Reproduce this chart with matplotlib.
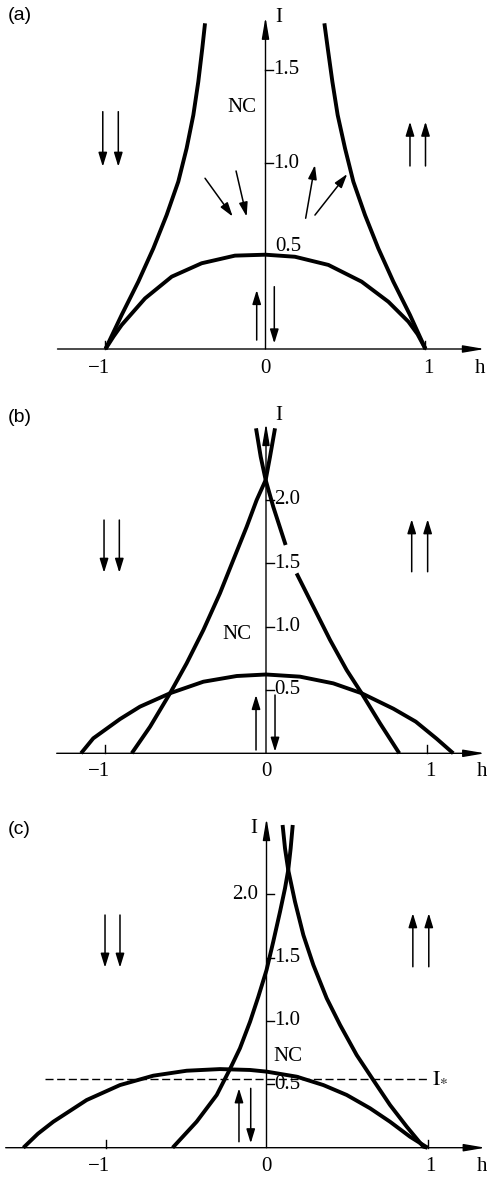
import matplotlib
matplotlib.use("Agg")
import matplotlib.pyplot as plt

plt.rcParams['mathtext.fontset'] = 'stix'
SERIF = ['Liberation Serif', 'DejaVu Serif']
SANS = ['Liberation Sans', 'DejaVu Sans']

W, H = 487, 1177
NAN = float('nan')

# ---------------- data ----------------
# panel (a)
a_left_h = [-1.0, -0.899, -0.795, -0.701, -0.618, -0.545, -0.493, -0.451, -0.42, -0.395, -0.378]
a_left_I = [0.0, 0.183, 0.362, 0.541, 0.72, 0.9, 1.079, 1.258, 1.437, 1.617, 1.751]
a_right_h = [1.0, 0.903, 0.799, 0.705, 0.622, 0.549, 0.497, 0.451, 0.418, 0.389, 0.368]
a_right_I = [0.0, 0.183, 0.362, 0.541, 0.72, 0.9, 1.079, 1.258, 1.437, 1.617, 1.751]
a_arc_h = [-1.0, -0.95, -0.899, -0.753, -0.586, -0.399, -0.191, 0.0, 0.184, 0.393, 0.601, 0.768, 0.893, 0.95, 1.0]
a_arc_I = [0.0, 0.067, 0.129, 0.272, 0.389, 0.461, 0.502, 0.507, 0.496, 0.452, 0.362, 0.254, 0.147, 0.08, 0.0]

# panel (b)  (the right curve is broken where the "1.5" label sits)
b_left_h = [-0.834, -0.72, -0.596, -0.493, -0.389, -0.286, -0.203, -0.12, -0.058, -0.002, 0.025, 0.056]
b_left_I = [0.0, 0.21, 0.474, 0.71, 0.973, 1.263, 1.526, 1.788, 1.999, 2.157, 2.341, 2.565]
b_right_h = [-0.062, -0.033, -0.002, 0.045, 0.122, NAN, 0.19, 0.294, 0.398, 0.501, 0.594, 0.708, 0.828]
b_right_I = [2.565, 2.341, 2.157, 1.946, 1.644, NAN, 1.42, 1.157, 0.894, 0.657, 0.474, 0.237, 0.0]
b_arc_h = [-1.149, -1.073, -0.907, -0.783, -0.596, -0.389, -0.182, 0.0, 0.211, 0.418, 0.594, 0.791, 0.93, 1.06, 1.163]
b_arc_I = [0.0, 0.118, 0.27, 0.368, 0.474, 0.565, 0.61, 0.622, 0.605, 0.552, 0.474, 0.352, 0.25, 0.115, 0.0]

# panel (c)
c_left_h = [-0.583, -0.434, -0.309, -0.227, -0.165, -0.102, -0.051, 0.0, 0.042, 0.084, 0.115, 0.135, 0.15, 0.163]
c_left_I = [0.0, 0.205, 0.416, 0.62, 0.784, 0.994, 1.19, 1.40, 1.625, 1.861, 2.046, 2.19, 2.36, 2.545]
c_right_h = [0.10, 0.115, 0.135, 0.177, 0.229, 0.291, 0.374, 0.457, 0.56, 0.663, 0.767, 0.871, 0.974, 1.0]
c_right_I = [2.545, 2.36, 2.19, 1.94, 1.677, 1.441, 1.178, 0.968, 0.731, 0.534, 0.337, 0.166, 0.008, 0.0]
c_arc_h = [-1.51, -1.42, -1.324, -1.117, -0.91, -0.703, -0.496, -0.289, -0.102, 0.0, 0.188, 0.353, 0.498, 0.643, 0.767, 0.891, 1.0]
c_arc_I = [0.0, 0.11, 0.205, 0.376, 0.494, 0.568, 0.607, 0.62, 0.613, 0.60, 0.56, 0.494, 0.416, 0.311, 0.205, 0.087, 0.0]
c_Istar = 0.54
c_Istar_h = [-1.376, 0.995]

x_tick_labels = ['\u22121', '0', '1']
x_tick_vals = [-1, 0, 1]
a_yticks = [1.0, 1.5]
bc_yticks = [0.5, 1.0, 1.5, 2.0]

fig = plt.figure(figsize=(W / 100, H / 100), dpi=100)


def make_ax(x0, y0, hu, Iu, hlim, Ilim):
    left = x0 + hlim[0] * hu
    right = x0 + hlim[1] * hu
    top = y0 - Ilim[1] * Iu
    bottom = y0 - Ilim[0] * Iu
    ax = fig.add_axes([left / W, 1 - bottom / H, (right - left) / W, (bottom - top) / H])
    ax.set_xlim(*hlim)
    ax.set_ylim(*Ilim)
    ax.axis('off')
    return ax


def axis_arrow(ax, p0, p1):
    ax.annotate('', xy=p1, xytext=p0,
                arrowprops=dict(arrowstyle='-|>,head_length=1.0,head_width=0.17',
                                lw=1.0, color='k', mutation_scale=13,
                                shrinkA=0, shrinkB=0), annotation_clip=False)


def small_arrow(ax, p0, p1):
    ax.annotate('', xy=p1, xytext=p0,
                arrowprops=dict(arrowstyle='-|>,head_length=0.65,head_width=0.2',
                                lw=1.1, color='k', mutation_scale=13,
                                shrinkA=0, shrinkB=0), annotation_clip=False)


FS = 15
CURVE_LW = 2.8


def curve(ax, hs, Is):
    ax.plot(hs, Is, color='k', lw=CURVE_LW, solid_capstyle='butt', solid_joinstyle='round')


def frame(ax, Iu, xstart, xend, ytop, xlab_I):
    axis_arrow(ax, (xstart, 0), (xend, 0))
    axis_arrow(ax, (0, 0), (0, ytop))
    for v in (-1, 1):
        ax.plot([v, v], [0, 8 / Iu], color='k', lw=1.0)
    for v, t in zip(x_tick_vals, x_tick_labels):
        ax.text(v - (0.04 if v < 0 else 0) + (0.02 if v > 0 else 0), xlab_I, t,
                ha='center', va='center', fontsize=FS, family=SERIF)
    ax.text(1.34, xlab_I, 'h', ha='center', va='center', fontsize=FS, family=SERIF)


# ---------------- panel (a) ----------------
hu, Iu = 160, 186
axA = make_ax(265.5, 349, hu, Iu, (-1.62, 1.38), (-0.25, 1.88))
frame(axA, Iu, -1.30, 1.37, 1.785, -0.105)
curve(axA, a_left_h, a_left_I)
curve(axA, a_right_h, a_right_I)
curve(axA, a_arc_h, a_arc_I)
for v in a_yticks:
    axA.plot([0, 7.5 / hu], [v, v], color='k', lw=1.0)
    axA.text(8 / hu, v, f'{v:.1f}', ha='left', va='center', fontsize=FS, family=SERIF)
axA.text(0.06, 0.55, '0.5', ha='left', va='center', fontsize=FS, family=SERIF)
axA.text(0.06, 1.78, 'I', ha='left', va='center', fontsize=FS, family=SERIF)
axA.text(-0.15, 1.30, 'NC', ha='center', va='center', fontsize=FS, family=SERIF)
for h in (-1.017, -0.92):
    small_arrow(axA, (h, 1.276), (h, 0.98))
for h in (0.903, 1.0):
    small_arrow(axA, (h, 0.984), (h, 1.222))
small_arrow(axA, (-0.378, 0.918), (-0.205, 0.712))
small_arrow(axA, (-0.184, 0.957), (-0.118, 0.712))
small_arrow(axA, (0.251, 0.703), (0.309, 0.989))
small_arrow(axA, (0.309, 0.72), (0.511, 0.941))
small_arrow(axA, (-0.055, 0.048), (-0.055, 0.317))
small_arrow(axA, (0.055, 0.335), (0.055, 0.03))
fig.text(8 / W, 1 - 15 / H, '(a)', ha='left', va='center', fontsize=14, family=SANS)

# ---------------- panel (b) ----------------
hu, Iu = 161, 126.7
axB = make_ax(266, 753.3, hu, Iu, (-1.62, 1.37), (-0.3, 2.8))
frame(axB, Iu, -1.30, 1.36, 2.605, -0.145)
curve(axB, b_left_h, b_left_I)
curve(axB, b_right_h, b_right_I)
curve(axB, b_arc_h, b_arc_I)
for v in bc_yticks:
    axB.plot([0, 7.5 / hu], [v, v], color='k', lw=1.0, zorder=4)
    axB.text(8 / hu, v, f'{v:.1f}', ha='left', va='center', fontsize=FS,
             family=SERIF, zorder=5)
axB.text(0.056, 2.67, 'I', ha='left', va='center', fontsize=FS, family=SERIF)
axB.text(-0.182, 0.934, 'NC', ha='center', va='center', fontsize=FS, family=SERIF)
for h in (-1.006, -0.911):
    small_arrow(axB, (h, 1.841), (h, 1.425))
for h in (0.905, 1.004):
    small_arrow(axB, (h, 1.433), (h, 1.847))
small_arrow(axB, (-0.062, 0.026), (-0.062, 0.46))
small_arrow(axB, (0.056, 0.46), (0.056, 0.013))
fig.text(8 / W, 1 - 418 / H, '(b)', ha='left', va='center', fontsize=14, family=SANS)

# ---------------- panel (c) ----------------
hu, Iu = 161, 126.8
axC = make_ax(266.5, 1147.7, hu, Iu, (-1.62, 1.37), (-0.22, 2.75))
frame(axC, Iu, -1.62, 1.36, 2.598, -0.15)
curve(axC, c_left_h, c_left_I)
curve(axC, c_right_h, c_right_I)
curve(axC, c_arc_h, c_arc_I)
axC.plot(c_Istar_h, [c_Istar, c_Istar], color='k', lw=1.0, linestyle=(0, (5.8, 2.6)))
for v in bc_yticks:
    axC.plot([0, 7.5 / hu], [v, v], color='k', lw=1.0)
    if v == 2.0:
        axC.text(-0.05, v, f'{v:.1f}', ha='right', va='center', fontsize=FS, family=SERIF)
    else:
        axC.text(8 / hu, v, f'{v:.1f}', ha='left', va='center', fontsize=FS, family=SERIF)
axC.text(-0.082, 2.519, 'I', ha='center', va='center', fontsize=FS, family=SERIF)
axC.text(0.135, 0.718, 'NC', ha='center', va='center', fontsize=FS, family=SERIF)
axC.text(1.03, 0.565, r'$\mathrm{I}_{*}$', ha='left', va='center', fontsize=FS + 1)
for h in (-1.003, -0.91):
    small_arrow(axC, (h, 1.835), (h, 1.42))
for h in (0.909, 1.008):
    small_arrow(axC, (h, 1.427), (h, 1.849))
small_arrow(axC, (-0.171, 0.047), (-0.171, 0.468))
small_arrow(axC, (-0.098, 0.468), (-0.098, 0.035))
fig.text(8 / W, 1 - 830 / H, '(c)', ha='left', va='center', fontsize=14, family=SANS)

fig.savefig('out.png', dpi=100)
